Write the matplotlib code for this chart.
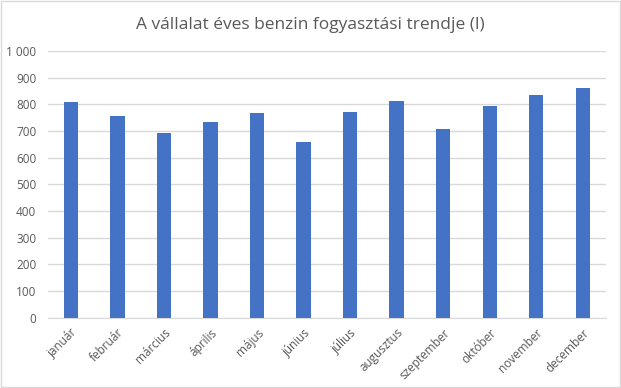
import numpy as np
import matplotlib.pyplot as plt
from matplotlib.patches import Rectangle

honapok = ['január', 'február', 'március', 'április', 'május', 'június',
           'július', 'augusztus', 'szeptember', 'október', 'november', 'december']
fogyasztas = [808, 756, 693, 733, 769, 658, 771, 813, 708, 793, 835, 860]
y_ticks = [0, 100, 200, 300, 400, 500, 600, 700, 800, 900, 1000]

plt.rcParams['font.family'] = ['Open Sans', 'DejaVu Sans']

fig = plt.figure(figsize=(6.21, 3.88), dpi=100)
ax = fig.add_axes([0.0765, 0.181, 0.8995, 0.6876])

x = np.arange(len(honapok))
ax.bar(x, fogyasztas, width=0.31, color='#4472C4', zorder=3)

ax.set_xlim(-0.5, len(honapok) - 0.5)
ax.set_ylim(0, 1000)
ax.set_yticks(y_ticks)
ax.set_yticklabels([f'{v:,}'.replace(',', ' ') for v in y_ticks])
ax.set_xticks(x)
ax.set_xticklabels(honapok, rotation=45, ha='right', va='top', rotation_mode='anchor')

ax.grid(axis='y', color='#d9d9d9', linewidth=1, zorder=0)
for s in ['top', 'right', 'left']:
    ax.spines[s].set_visible(False)
ax.spines['bottom'].set_color('#d9d9d9')
ax.tick_params(length=0, colors='#595959', labelsize=8.5)
ax.tick_params(axis='x', pad=6)
ax.tick_params(axis='y', pad=8)

fig.suptitle('A vállalat éves benzin fogyasztási trendje (l)', y=0.955,
             fontsize=12.5, color='#595959')

# keret a diagram körül
fig.patches.append(Rectangle((0.001, 0.002), 0.997, 0.995, transform=fig.transFigure,
                             fill=False, edgecolor='#d9d9d9', linewidth=1))

fig.savefig('out.png', dpi=100)
